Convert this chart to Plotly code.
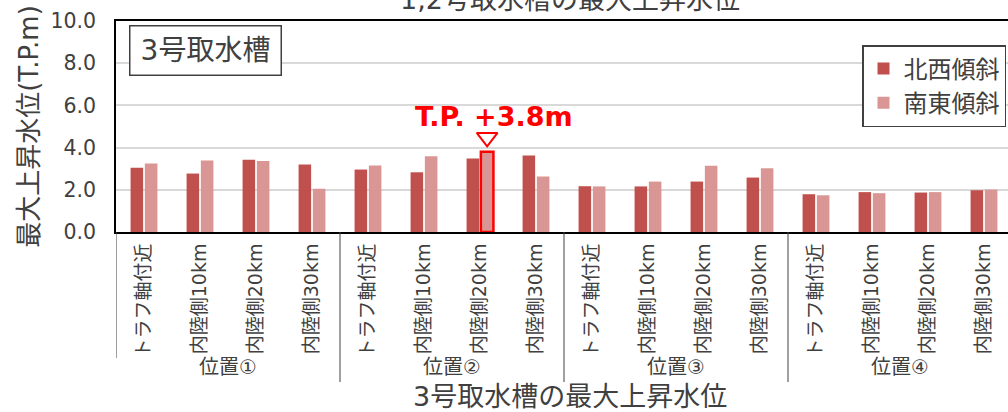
import plotly.graph_objects as go

# --- data -------------------------------------------------------------
positions = ["位置①", "位置②", "位置③", "位置④"]
points = ["トラフ軸付近", "内陸側10km", "内陸側20km", "内陸側30km"]

northwest = [3.04, 2.77, 3.43, 3.20,
             2.96, 2.83, 3.48, 3.62,
             2.17, 2.16, 2.39, 2.58,
             1.79, 1.89, 1.87, 1.98]
southeast = [3.25, 3.39, 3.37, 2.05,
             3.15, 3.59, 3.80, 2.63,
             2.16, 2.39, 3.14, 3.02,
             1.74, 1.84, 1.89, 2.01]

series_names = ["北西傾斜", "南東傾斜"]
peak_position = "位置②"
peak_point = "内陸側20km"

# Latin glyphs from a wide sans, Japanese from Noto CJK
FONT = "DejaVu Sans, Noto Sans CJK JP"
TEXT = "#404040"
DARK = "#C0504D"
LIGHT = "#D99694"
RED = "#FF0000"

# one unique key per bar slot; the tick text shows only the point name
keys = [f"{p}|{q}" for p in positions for q in points]
tick_text = [q for _ in positions for q in points]

peak_idx = keys.index(f"{peak_position}|{peak_point}")
peak_value = southeast[peak_idx]

line_colors = [RED if i == peak_idx else "rgba(0,0,0,0)" for i in range(len(keys))]
line_widths = [2.5 if i == peak_idx else 0 for i in range(len(keys))]

fig = go.Figure()
fig.add_trace(go.Bar(x=keys, y=northwest, name=series_names[0],
                     marker=dict(color=DARK, line=dict(width=0)),
                     offsetgroup="nw"))
fig.add_trace(go.Bar(x=keys, y=southeast, name=series_names[1],
                     marker=dict(color=LIGHT,
                                 line=dict(color=line_colors, width=line_widths)),
                     offsetgroup="se"))

# open triangle above the peak bar, grouped in the same slot as the bar
fig.add_trace(go.Scatter(x=[keys[peak_idx]], y=[None],
                         mode="markers", offsetgroup="nw", orientation="v",
                         showlegend=False, hoverinfo="skip"))
fig.add_trace(go.Scatter(x=[keys[peak_idx]], y=[peak_value + 0.68],
                         mode="markers", offsetgroup="se", orientation="v",
                         marker=dict(symbol="triangle-down-open", size=18,
                                     color=RED, line=dict(width=2, color=RED)),
                         showlegend=False, hoverinfo="skip"))

PLOT_TOP, PLOT_BOTTOM, PLOT_LEFT, W, H = 21, 232, 116, 1008, 412
ph = PLOT_BOTTOM - PLOT_TOP
pw = W - PLOT_LEFT


def py(p):
    return (PLOT_BOTTOM - p) / ph


def px(p):
    return (p - PLOT_LEFT) / pw


n = len(points)
shapes = []
annotations = []
for g, name in enumerate(positions):
    # divider at the left edge of each group
    shapes.append(dict(type="line", xref="x", yref="paper",
                       x0=g * n - 0.5, x1=g * n - 0.5,
                       y0=0, y1=py(358 if g == 0 else 382),
                       line=dict(color=TEXT, width=1)))
    annotations.append(dict(text=name, xref="x", yref="paper",
                            x=g * n + (n - 1) / 2, y=py(367),
                            xanchor="center", yanchor="middle", showarrow=False,
                            font=dict(size=20, family=FONT, color=TEXT)))

annotations += [
    dict(text="3号取水槽", xref="paper", yref="paper",
         x=px(129), xanchor="left", y=py(25), yanchor="top",
         width=136, height=34, align="center", valign="middle",
         showarrow=False, bgcolor="white", bordercolor=TEXT,
         borderwidth=1.5, borderpad=7,
         font=dict(size=28, family=FONT, color=TEXT)),
    dict(text="3号取水槽の最大上昇水位", xref="paper", yref="paper",
         x=px(570), y=py(396), xanchor="center", yanchor="middle",
         showarrow=False, font=dict(size=27, family=FONT, color=TEXT)),
    dict(text="1,2号取水槽の最大上昇水位", xref="paper", yref="paper",
         x=px(570), y=py(0), xanchor="center", yanchor="middle",
         showarrow=False, font=dict(size=27, family=FONT, color=TEXT)),
    dict(text=f"<b>T.P. +{peak_value:.1f}m</b>", xref="paper", yref="y",
         x=px(494), y=peak_value, yshift=35, xanchor="center",
         yanchor="middle", showarrow=False,
         font=dict(size=27, family="DejaVu Sans", color=RED)),
]

fig.update_layout(
    width=W, height=H,
    margin=dict(l=PLOT_LEFT, r=0, t=PLOT_TOP, b=H - PLOT_BOTTOM),
    paper_bgcolor="white", plot_bgcolor="white",
    font=dict(family=FONT, color=TEXT),
    barmode="group", bargap=0.49, bargroupgap=0.12,
    scattermode="group", scattergap=0.49,
    showlegend=True,
    legend=dict(x=px(1006), xanchor="right", y=py(45), yanchor="top",
                bgcolor="white", bordercolor=TEXT, borderwidth=1.5,
                font=dict(size=24, family=FONT, color=TEXT),
                tracegroupgap=0),
    xaxis=dict(type="category", categoryorder="array", categoryarray=keys,
               tickvals=keys, ticktext=tick_text,
               range=[-0.5, -0.5 + pw / 56],
               tickangle=-90, tickfont=dict(size=19, family=FONT, color=TEXT),
               ticks="", ticklabelstandoff=2,
               showline=True, linecolor="black", linewidth=2,
               mirror=True, showgrid=False),
    yaxis=dict(range=[0, 10], dtick=2, tickformat=".1f",
               tickfont=dict(size=20.5, family=FONT, color=TEXT),
               ticks="", ticklabelstandoff=14,
               showgrid=True, gridcolor="#D9D9D9", gridwidth=1.5,
               zeroline=False, showline=True, linecolor="black", linewidth=1.5,
               title=dict(text="最大上昇水位(T.P.m)", standoff=4,
                          font=dict(size=26, family=FONT, color=TEXT))),
    shapes=shapes,
    annotations=annotations,
)

fig.write_html("out.html")
